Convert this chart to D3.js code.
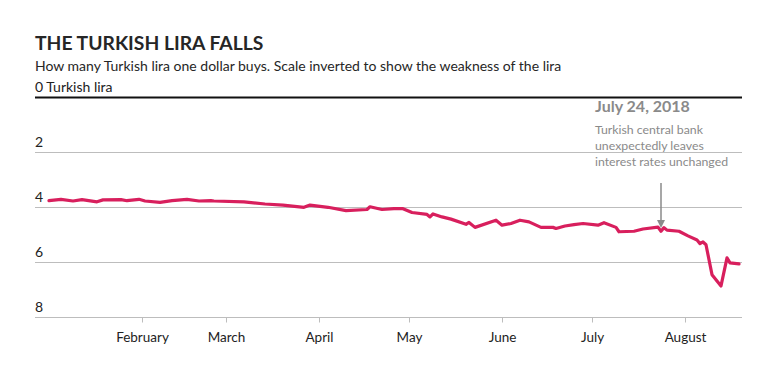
<!DOCTYPE html>
<html>
<head>
<meta charset="utf-8">
<script src="https://cdn.jsdelivr.net/npm/d3@7"></script>
<style>
  html, body { margin: 0; padding: 0; background: #fff; }
  svg { display: block; font-family: "Lato", "Open Sans", sans-serif; }
</style>
</head>
<body>
<div id="chart"></div>
<script>
const dates = ["2018-01-01","2018-01-05","2018-01-09","2018-01-12","2018-01-17","2018-01-19","2018-01-25","2018-01-27","2018-01-31",
  "2018-02-02","2018-02-07","2018-02-11","2018-02-16","2018-02-20","2018-02-24","2018-02-25",
  "2018-03-07","2018-03-14","2018-03-20","2018-03-27","2018-03-29",
  "2018-04-04","2018-04-10","2018-04-17","2018-04-18","2018-04-22","2018-04-26","2018-04-29",
  "2018-05-02","2018-05-07","2018-05-08","2018-05-09","2018-05-12","2018-05-15","2018-05-20","2018-05-21","2018-05-23","2018-05-30",
  "2018-06-01","2018-06-04","2018-06-07","2018-06-10","2018-06-14","2018-06-18","2018-06-19","2018-06-22","2018-06-25","2018-06-28",
  "2018-07-03","2018-07-05","2018-07-09","2018-07-10","2018-07-15","2018-07-18","2018-07-23","2018-07-24","2018-07-25","2018-07-26","2018-07-30",
  "2018-08-02","2018-08-05","2018-08-06","2018-08-07","2018-08-08","2018-08-10","2018-08-13","2018-08-15","2018-08-16","2018-08-19"];
const rates = [3.76,3.71,3.77,3.72,3.80,3.73,3.72,3.76,3.71,
  3.77,3.82,3.76,3.71,3.77,3.76,3.77,
  3.80,3.88,3.92,4.00,3.92,
  4.00,4.12,4.08,3.98,4.08,4.05,4.05,
  4.19,4.26,4.35,4.24,4.35,4.43,4.62,4.55,4.73,4.47,
  4.65,4.59,4.47,4.53,4.73,4.73,4.77,4.68,4.63,4.59,
  4.65,4.56,4.73,4.89,4.87,4.79,4.72,4.87,4.74,4.83,4.87,
  5.04,5.19,5.32,5.26,5.36,6.45,6.86,5.84,6.02,6.06];
const yTicks = [0, 2, 4, 6, 8];
const monthTicks = ["2018-02-01","2018-03-01","2018-04-01","2018-05-01","2018-06-01","2018-07-01","2018-08-01"];
const monthLabels = ["February","March","April","May","June","July","August"];
const title = "THE TURKISH LIRA FALLS";
const subtitle = "How many Turkish lira one dollar buys. Scale inverted to show the weakness of the lira";
const annoDate = "2018-07-24";
const annoTitle = "July 24, 2018";
const annoLines = ["Turkish central bank", "unexpectedly leaves", "interest rates unchanged"];

const W = 780, H = 382;
const parse = d3.utcParse("%Y-%m-%d");
const data = dates.map((d, i) => ({ date: parse(d), value: rates[i] }));

const left = 35, right = 742;
const x = d3.scaleUtc()
  .domain([parse("2018-01-01"), parse("2018-08-01")])
  .range([49, 685]);
const y = d3.scaleLinear().domain([0, 8]).range([97.3, 317.3]);

const svg = d3.select("#chart").append("svg").attr("width", W).attr("height", H);

svg.append("text").attr("x", left).attr("y", 50)
  .attr("font-size", 19.3).attr("font-weight", 700).attr("fill", "#262626")
  .text(title);
svg.append("text").attr("x", left).attr("y", 71)
  .attr("font-size", 14).attr("fill", "#262626")
  .text(subtitle);

// gridlines
const grid = svg.append("g");
yTicks.forEach(t => {
  grid.append("line")
    .attr("x1", left).attr("x2", right)
    .attr("y1", Math.round(y(t)) + 0.5).attr("y2", Math.round(y(t)) + 0.5)
    .attr("stroke", t === 0 ? "#111" : "#bdbdbd")
    .attr("stroke-width", t === 0 ? 2 : 1);
  grid.append("text")
    .attr("x", left).attr("y", y(t) - 5)
    .attr("font-size", 14).attr("fill", "#222")
    .text(t === 0 ? "0 Turkish lira" : t);
});

// x axis
const xAxis = d3.axisBottom(x)
  .tickValues(monthTicks.map(parse))
  .tickFormat((d, i) => monthLabels[i])
  .tickSize(5).tickPadding(10);
const gx = svg.append("g").attr("transform", `translate(0,${Math.round(y(8)) + 0.5})`).call(xAxis);
gx.select(".domain").remove();
gx.selectAll(".tick line").attr("stroke", "#bdbdbd");
gx.selectAll(".tick text").attr("font-size", 13.5).attr("fill", "#222")
  .attr("font-family", "Lato, 'Open Sans', sans-serif");

// line
const line = d3.line().x(d => x(d.date)).y(d => y(d.value)).curve(d3.curveLinear);
svg.append("path").datum(data)
  .attr("d", line)
  .attr("fill", "none")
  .attr("stroke", "#d81f5d")
  .attr("stroke-width", 3.2)
  .attr("stroke-linejoin", "round")
  .attr("stroke-linecap", "round");

// annotation
const ax = x(parse(annoDate));
svg.append("line")
  .attr("x1", ax).attr("x2", ax).attr("y1", 183).attr("y2", 222)
  .attr("stroke", "#8a8a8a").attr("stroke-width", 1.5);
svg.append("path")
  .attr("d", `M${ax - 4},220 L${ax + 4},220 L${ax},228 Z`)
  .attr("fill", "#8a8a8a");

svg.append("text").attr("x", 595).attr("y", 112)
  .attr("font-size", 16).attr("font-weight", 700).attr("fill", "#8a8a8a")
  .text(annoTitle);
annoLines.forEach((t, i) => {
  svg.append("text").attr("x", 595).attr("y", 134 + i * 16)
    .attr("font-size", 12.3).attr("fill", "#8a8a8a")
    .text(t);
});
</script>
</body>
</html>
